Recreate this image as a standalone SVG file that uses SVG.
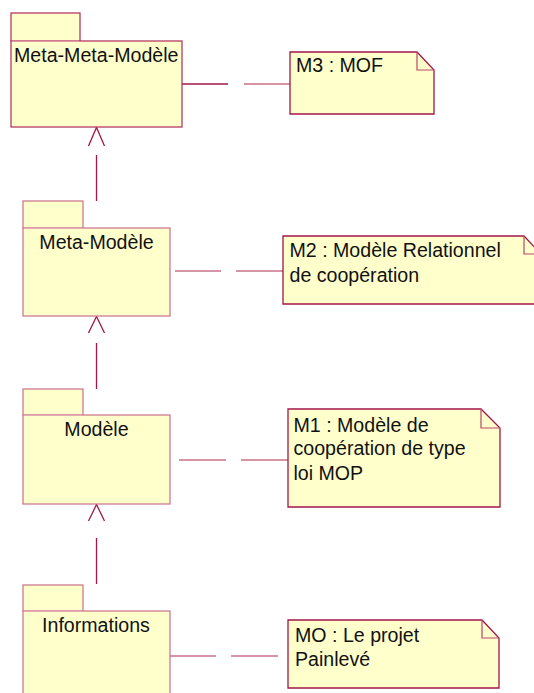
<svg xmlns="http://www.w3.org/2000/svg" width="534" height="693" viewBox="0 0 534 693">
<style>
  .pkg { fill: #ffffcc; stroke: #c8708a; stroke-width: 1.2; }
  .pkg1 { fill: #ffffcc; stroke: #b02a55; stroke-width: 1.2; }
  .sep { stroke: #eab0bf; stroke-width: 1; fill: none; }
  .note { fill: #ffffcc; stroke: #a3164a; stroke-width: 1.3; }
  .fold { fill: none; stroke: #b8486a; stroke-width: 1.2; }
  .t { font-family: "Liberation Sans", Arial, sans-serif; font-size: 19.6px; fill: #111; }
  .c { text-anchor: middle; }
  .dep { stroke: #a3164a; stroke-width: 1.3; fill: none; }
  .lnk { stroke: #c8708a; stroke-width: 1.3; fill: none; }
</style>
<rect width="534" height="693" fill="#ffffff"/>

<g id="connectors">
  <!-- dependencies (dashed with open arrowheads) -->
  <line class="dep" x1="96.5" y1="201" x2="96.5" y2="155"/>
  <polyline class="dep" points="88.5,146 96.5,127.5 104.5,146"/>
  <line class="dep" x1="96.5" y1="389" x2="96.5" y2="343"/>
  <polyline class="dep" points="88.5,333 96.5,316.5 104.5,333"/>
  <line class="dep" x1="96.5" y1="584" x2="96.5" y2="538"/>
  <polyline class="dep" points="88.5,521 96.5,504.5 104.5,521"/>
  <!-- note links -->
  <line class="dep" x1="182" y1="84" x2="228" y2="84"/>
  <line class="lnk" x1="244" y1="84" x2="290" y2="84"/>
  <line class="lnk" x1="175" y1="271" x2="221" y2="271"/>
  <line class="lnk" x1="236" y1="271" x2="283" y2="271"/>
  <line class="lnk" x1="179" y1="460" x2="226" y2="460"/>
  <line class="lnk" x1="241" y1="460" x2="288" y2="460"/>
  <line class="lnk" x1="170" y1="656" x2="216" y2="656"/>
  <line class="lnk" x1="231" y1="656" x2="278" y2="656"/>
</g>

<g id="pkg-meta-meta-modele">
  <rect class="pkg1" x="11" y="13" width="69" height="28"/>
  <rect class="pkg1" x="11" y="41" width="171" height="86"/>
  <line class="sep" x1="11.6" y1="41" x2="79.4" y2="41"/>
  <text class="t" x="14" y="62">Meta-Meta-Modèle</text>
</g>

<g id="pkg-meta-modele">
  <rect class="pkg" x="23" y="201" width="60" height="27"/>
  <rect class="pkg" x="23" y="228" width="147" height="88"/>
  <line class="sep" x1="23.6" y1="228" x2="82.4" y2="228"/>
  <text class="t c" x="96.5" y="249">Meta-Modèle</text>
</g>

<g id="pkg-modele">
  <rect class="pkg" x="23" y="389" width="60" height="26"/>
  <rect class="pkg" x="23" y="415" width="147" height="89"/>
  <line class="sep" x1="23.6" y1="415" x2="82.4" y2="415"/>
  <text class="t c" x="96.5" y="436">Modèle</text>
</g>

<g id="pkg-informations">
  <rect class="pkg" x="23" y="585" width="60" height="26"/>
  <rect class="pkg" x="23" y="611" width="147" height="90"/>
  <line class="sep" x1="23.6" y1="611" x2="82.4" y2="611"/>
  <text class="t c" x="96" y="632">Informations</text>
</g>

<g id="note-m3">
  <path class="note" d="M290,52 H417 L434,70 V114 H290 Z"/>
  <path class="fold" d="M417,52 V70 H434"/>
  <text class="t" x="296" y="72">M3 : MOF</text>
</g>

<g id="note-m2">
  <path class="note" d="M283,236 H524 L541,254 V304 H283 Z"/>
  <path class="fold" d="M524,236 V254 H541"/>
  <text class="t" x="289.5" y="257">M2 : Modèle Relationnel</text>
  <text class="t" x="289.5" y="282">de coopération</text>
</g>

<g id="note-m1">
  <path class="note" d="M288,409 H481 L500,428 V507 H288 Z"/>
  <path class="fold" d="M481,409 V428 H500"/>
  <text class="t" x="293.5" y="432">M1 : Modèle de</text>
  <text class="t" x="293.5" y="455">coopération de type</text>
  <text class="t" x="293.5" y="480">loi MOP</text>
</g>

<g id="note-mo">
  <path class="note" d="M288,620 H482 L499,638 V688 H288 Z"/>
  <path class="fold" d="M482,620 V638 H499"/>
  <text class="t" x="295" y="642">MO : Le projet</text>
  <text class="t" x="295" y="666">Painlevé</text>
</g>
</svg>
